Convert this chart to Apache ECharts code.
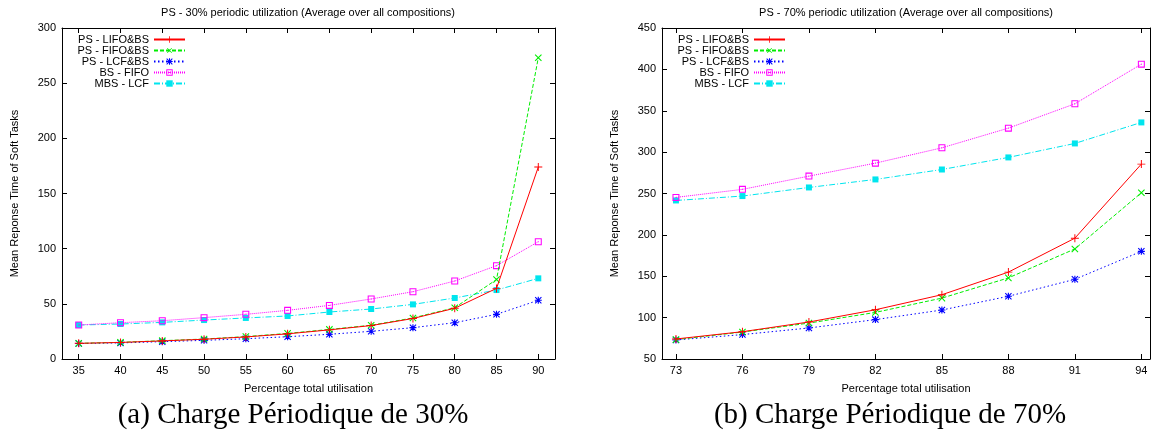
<!DOCTYPE html>
<html>
<head>
<meta charset="utf-8">
<script src="https://cdn.jsdelivr.net/npm/echarts@6/dist/echarts.min.js"></script>
<style>
html,body{margin:0;padding:0;background:#fff;}
#chart{width:1156px;height:441px;}
</style>
</head>
<body>
<div id="chart"></div>
<script>
// ---- data ----
const seriesNames = ['PS - LIFO&BS', 'PS - FIFO&BS', 'PS - LCF&BS', 'BS - FIFO', 'MBS - LCF'];

const utilLeft = [35, 40, 45, 50, 55, 60, 65, 70, 75, 80, 85, 90];
const lifoLeft = [14.2, 15, 16.4, 17.9, 20, 22.8, 26.4, 30.3, 36.7, 46, 64, 174];
const fifoLeft = [14.2, 15.1, 16.6, 18.1, 20.3, 23.2, 26.8, 30.6, 37.2, 46.5, 72, 273];
const lcfLeft = [14, 14.6, 15.7, 16.9, 18.4, 20.2, 22.4, 25.1, 28.4, 32.9, 40.5, 53.2];
const bsFifoLeft = [30.8, 32.9, 34.7, 37.5, 40.5, 44.1, 48.6, 54.4, 61, 70.7, 84.6, 106.3];
const mbsLcfLeft = [30.8, 31.7, 33.2, 35.3, 37.2, 39, 42.6, 45.3, 49.5, 55.3, 62.5, 73.1];

const utilRight = [73, 76, 79, 82, 85, 88, 91, 94];
const lifoRight = [74.2, 83, 94.7, 109.5, 127.7, 155, 196, 285.5];
const fifoRight = [73.4, 82.6, 93.4, 106.3, 123.6, 148, 183, 250.9];
const lcfRight = [73, 79.5, 87.5, 97.6, 109.2, 125.8, 146.3, 180.1];
const bsFifoRight = [245.3, 255, 271, 286.7, 305.2, 329, 358.4, 406.3];
const mbsLcfRight = [241.6, 246.9, 257.3, 267, 279, 293.6, 310.5, 335.9];

const xTicksLeft = [35, 40, 45, 50, 55, 60, 65, 70, 75, 80, 85, 90];
const xTicksRight = [73, 76, 79, 82, 85, 88, 91, 94];

const titleLeft = 'PS - 30% periodic utilization (Average over all compositions)';
const titleRight = 'PS - 70% periodic utilization (Average over all compositions)';
const xName = 'Percentage total utilisation';
const yName = 'Mean Reponse Time of Soft Tasks';
const captionLeft = '(a) Charge Périodique de 30%';
const captionRight = '(b) Charge Périodique de 70%';

// ---- styles ----
const FONT = 'Liberation Sans, Arial, sans-serif';
const plusPath = 'path://M4.4,0H5.6V4.4H10V5.6H5.6V10H4.4V5.6H0V4.4H4.4Z';
const starPath = 'path://M4.2,0H5.8V4.2H10V5.8H5.8V10H4.2V5.8H0V4.2H4.2Z M1.1,0L10,8.9L8.9,10L0,1.1Z M8.9,0L10,1.1L1.1,10L0,8.9Z';
const openSquarePath = 'path://M0,0H10V10H0Z M1.5,1.5V8.5H8.5V1.5Z M4.3,4.3H5.7V5.7H4.3Z';
const styles = [
  {color: '#ff0000', type: 'solid', symbol: plusPath, size: 8, rotate: 0},
  {color: '#00ee00', type: [4, 2], symbol: plusPath, size: 9, rotate: 45},
  {color: '#0000ff', type: [1.5, 2.5], symbol: starPath, size: 7, rotate: 0},
  {color: '#ff00ff', type: [1, 1], symbol: openSquarePath, size: 7, rotate: 0},
  {color: '#00e5ee', type: [6, 2, 1, 2], symbol: 'rect', size: 6, rotate: 0}
];

function zip(xs, ys) { return xs.map((x, i) => [x, ys[i]]); }

function makeSeries(xs, list, xi, yi) {
  return list.map((ys, k) => ({
    name: seriesNames[k],
    type: 'line',
    xAxisIndex: xi,
    yAxisIndex: yi,
    data: zip(xs, ys),
    symbol: styles[k].symbol,
    symbolSize: styles[k].size,
    symbolRotate: styles[k].rotate,
    showAllSymbol: true,
    itemStyle: {color: styles[k].color, borderWidth: 0},
    lineStyle: {color: styles[k].color, width: 1, type: styles[k].type},
    emphasis: {disabled: true},
    z: 5 - k
  }));
}

function xAxisPair(gi, min, max, ticks) {
  return [
    {
      gridIndex: gi, type: 'value', position: 'bottom', min: min, max: max,
      name: xName, nameLocation: 'middle', nameGap: 24,
      nameTextStyle: {fontFamily: FONT, fontSize: 11, color: '#000'},
      axisLine: {show: true, onZero: false, lineStyle: {color: '#000', width: 1}},
      axisTick: {show: true, inside: true, length: 5, customValues: ticks, lineStyle: {color: '#000'}},
      axisLabel: {show: true, customValues: ticks, margin: 6, fontFamily: FONT, fontSize: 11, color: '#000'},
      splitLine: {show: false}
    },
    {
      gridIndex: gi, type: 'value', position: 'top', min: min, max: max,
      axisLine: {show: true, onZero: false, lineStyle: {color: '#000', width: 1}},
      axisTick: {show: true, inside: true, length: 5, customValues: ticks, lineStyle: {color: '#000'}},
      axisLabel: {show: false},
      splitLine: {show: false}
    }
  ];
}

function yAxisPair(gi, min, max) {
  return [
    {
      gridIndex: gi, type: 'value', position: 'left', min: min, max: max, interval: 50,
      name: yName, nameLocation: 'middle', nameGap: 42, nameRotate: 90,
      nameTextStyle: {fontFamily: FONT, fontSize: 11, color: '#000'},
      axisLine: {show: true, onZero: false, lineStyle: {color: '#000', width: 1}},
      axisTick: {show: true, inside: true, length: 5, lineStyle: {color: '#000'}},
      axisLabel: {show: true, margin: 6, fontFamily: FONT, fontSize: 11, color: '#000'},
      splitLine: {show: false}
    },
    {
      gridIndex: gi, type: 'value', position: 'right', min: min, max: max, interval: 50,
      axisLine: {show: true, onZero: false, lineStyle: {color: '#000', width: 1}},
      axisTick: {show: true, inside: true, length: 5, lineStyle: {color: '#000'}},
      axisLabel: {show: false},
      splitLine: {show: false}
    }
  ];
}

function legendFor(rightPx) {
  return {
    data: seriesNames,
    orient: 'vertical',
    right: rightPx,
    top: 34,
    align: 'right',
    itemWidth: 31,
    itemHeight: 8,
    itemGap: 0,
    padding: 0,
    selectedMode: false,
    textStyle: {fontFamily: FONT, fontSize: 11, color: '#000', lineHeight: 8, padding: [0, 0, 0, 0]}
  };
}

const chart = echarts.init(document.getElementById('chart'), null, {renderer: 'canvas'});
const option = {
  animation: false,
  backgroundColor: '#fff',
  grid: [
    {left: 62, right: 601, top: 28, bottom: 82, containLabel: false},
    {left: 662, right: 6, top: 28, bottom: 82, containLabel: false}
  ],
  xAxis: [].concat(xAxisPair(0, 33, 92, xTicksLeft), xAxisPair(1, 72.37, 94.39, xTicksRight)),
  yAxis: [].concat(yAxisPair(0, 0, 300), yAxisPair(1, 50, 450)),
  legend: [legendFor(970), legendFor(370)],
  series: [].concat(
    makeSeries(utilLeft, [lifoLeft, fifoLeft, lcfLeft, bsFifoLeft, mbsLcfLeft], 0, 0),
    makeSeries(utilRight, [lifoRight, fifoRight, lcfRight, bsFifoRight, mbsLcfRight], 2, 2)
  ),
  graphic: [
    {type: 'text', x: 308, y: 13, style: {text: titleLeft, align: 'center', verticalAlign: 'middle', fontFamily: FONT, fontSize: 11, fill: '#000'}},
    {type: 'text', x: 906, y: 13, style: {text: titleRight, align: 'center', verticalAlign: 'middle', fontFamily: FONT, fontSize: 11, fill: '#000'}},
    {type: 'text', x: 293, y: 415, style: {text: captionLeft, align: 'center', verticalAlign: 'middle', fontFamily: 'Liberation Serif, serif', fontSize: 29, fill: '#000'}},
    {type: 'text', x: 890, y: 415, style: {text: captionRight, align: 'center', verticalAlign: 'middle', fontFamily: 'Liberation Serif, serif', fontSize: 29, fill: '#000'}}
  ]
};
chart.setOption(option);
</script>
</body>
</html>
